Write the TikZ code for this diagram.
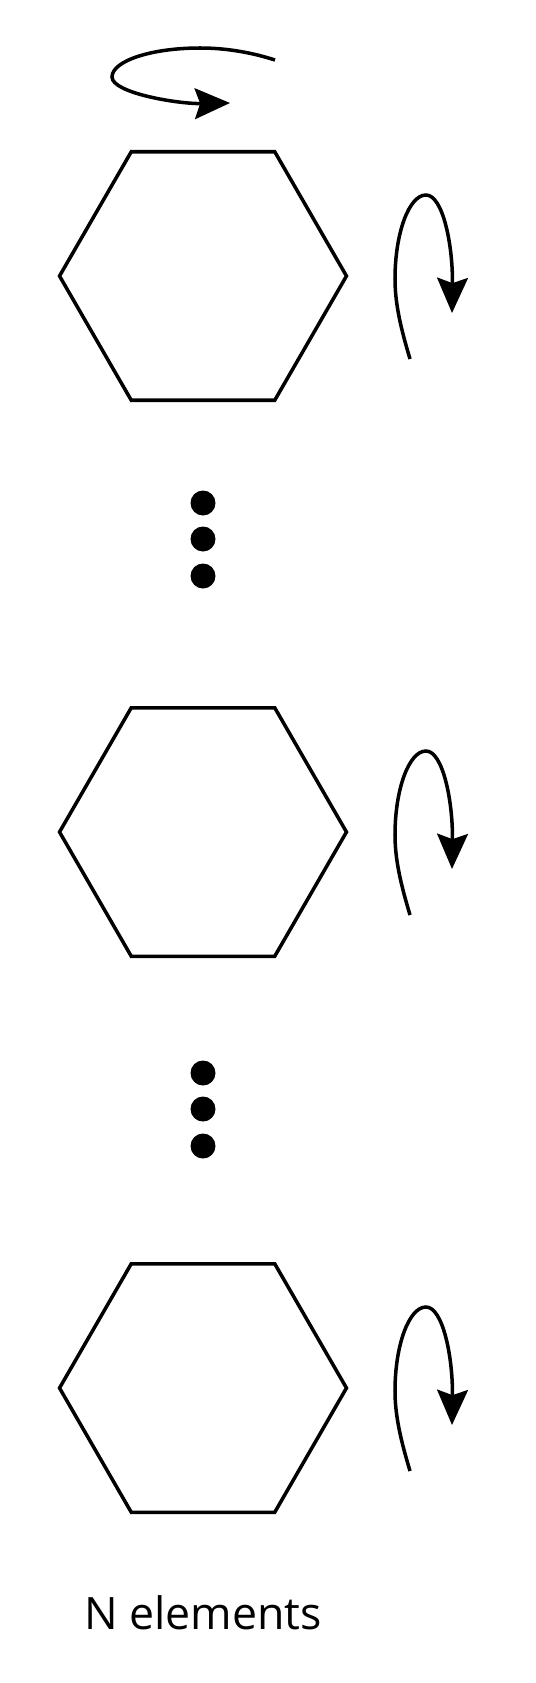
\documentclass[tikz,border=0pt]{standalone}
\usepackage{fontspec}
\setmainfont{Open Sans}
\usetikzlibrary{arrows.meta}
\usetikzlibrary{shapes.geometric}

\tikzset{
    cell/.style={draw, line width=2pt, regular polygon, regular polygon sides=6,
        minimum size=5.74cm, inner sep=0pt},
    spin/.style={line width=2pt, -{Stealth[length=20pt, width=17.5pt, inset=3pt]}},
    dot/.style={fill, circle, minimum size=0.5cm, inner sep=0pt}
}

\begin{document}
\begin{tikzpicture}[x=0.02cm, y=-0.02cm]
\useasboundingbox (0, 0) rectangle (535, 1683);
\node[cell] (hexa) at (203,  276) {};
\node[cell] (hexb) at (203,  832) {};
\node[cell] (hexc) at (203, 1388) {};
\node[dot] (dota1) at (203,  503) {};
\node[dot] (dota2) at (203,  539) {};
\node[dot] (dota3) at (203,  576) {};
\node[dot] (dotb1) at (203, 1073) {};
\node[dot] (dotb2) at (203, 1109) {};
\node[dot] (dotb3) at (203, 1146) {};
\node[anchor=base, font=\fontsize{25.4}{30}\selectfont] (count) at (203, 1629) {N elements};

% spin about the chain axis
\coordinate (topstart) at (275,  60);
\coordinate (toptop)   at (200,  48);
\coordinate (topleft)  at (112,  77);
\coordinate (toptip)   at (230, 103);
\draw[spin] (topstart) .. controls (250, 52) and (225, 48) .. (toptop)
    .. controls (151, 48) and (112, 61) .. (topleft)
    .. controls (112, 93) and (178, 104) .. (toptip);

% spin of each element
\foreach \h in {hexa, hexb, hexc} {
    \begin{scope}[shift={(\h.center)}]
    \draw[spin] (207, 83) .. controls (199, 56) and (192, 30) .. (192, 3)
        .. controls (192, -43) and (206, -81) .. (223, -81)
        .. controls (240, -81) and (250, -30) .. (249, 37);
    \end{scope}
}
\end{tikzpicture}
\end{document}
